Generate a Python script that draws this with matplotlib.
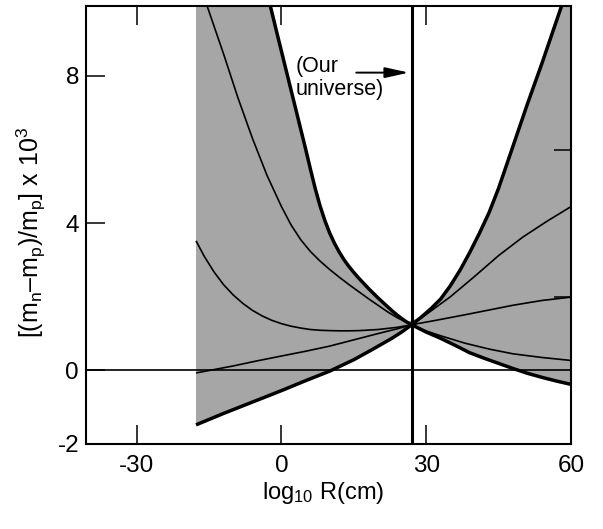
import numpy as np
import matplotlib
matplotlib.use("Agg")
import matplotlib.pyplot as plt
from matplotlib.ticker import FixedLocator

plt.rcParams['font.family'] = ['Liberation Sans', 'DejaVu Sans']
plt.rcParams['mathtext.fontset'] = 'custom'
plt.rcParams['mathtext.rm'] = 'Liberation Sans'
plt.rcParams['mathtext.it'] = 'Liberation Sans'
plt.rcParams['axes.unicode_minus'] = False

# ---- data ----
x_cross = 27.0          # log10 R of our universe
x_min_shade = -17.7

# thick boundary curve A (lower on left, upper on right)
A_x = [-17.7, -12, -6, 0, 5, 10, 15, 19, 23, 25, 27, 29, 31, 33, 35, 37, 39, 41, 43, 45,
       48, 51, 54, 57, 58.3]
A_y = [-1.48, -1.17, -0.86, -0.55, -0.28, -0.02, 0.29, 0.58, 0.88, 1.05, 1.24, 1.45, 1.68,
       1.94, 2.3, 2.72, 3.2, 3.72, 4.28, 4.95, 6.1, 7.25, 8.35, 9.5, 10.0]

# thick boundary curve B (upper on left, lower on right)
B_x = [-3.2, -2.3, -1, 0, 1, 2, 3, 4, 5, 6, 7, 8, 9, 10, 11, 12, 13, 14, 15, 16, 17, 18,
       19, 20, 21, 22, 23, 24, 25, 26, 27, 30, 33, 36, 39, 42, 45, 48, 51, 54, 57, 60]
B_y = [10.4, 9.9, 9.2, 8.67, 8.14, 7.61, 7.08, 6.55, 6.02, 5.47, 4.94, 4.47, 4.07, 3.73,
       3.45, 3.21, 3.0, 2.82, 2.66, 2.51, 2.37, 2.23, 2.1, 1.97, 1.85, 1.73, 1.61, 1.5,
       1.4, 1.31, 1.24, 1.04, 0.87, 0.68, 0.48, 0.33, 0.19, 0.05, -0.08, -0.19, -0.29, -0.38]

# thin curves
a_x = [-15.9, -15.4, -12, -9, -6, -3, 0, 2, 4, 6, 8, 10, 12, 14, 16, 18, 20, 22, 24, 27,
       30, 33, 38, 43, 48, 54, 60]
a_y = [10.1, 9.9, 8.6, 7.4, 6.3, 5.3, 4.45, 3.95, 3.55, 3.23, 2.97, 2.74, 2.53, 2.33, 2.14,
       1.95, 1.77, 1.59, 1.43, 1.24, 1.07, 0.94, 0.74, 0.58, 0.45, 0.35, 0.27]

b_x = [-17.7, -16, -14, -12, -10, -8, -6, -4, -2, 0, 2, 4, 6, 8, 10, 12, 14, 16, 18, 20,
       22, 24, 27, 32, 38, 43, 48, 54, 60]
b_y = [3.52, 3.1, 2.68, 2.33, 2.05, 1.82, 1.63, 1.48, 1.36, 1.27, 1.2, 1.15, 1.11, 1.09,
       1.08, 1.075, 1.075, 1.08, 1.095, 1.11, 1.14, 1.17, 1.24, 1.36, 1.51, 1.64, 1.77,
       1.9, 1.99]

c_x = [-17.7, -10, -5, 0, 5, 10, 15, 20, 24, 27, 30, 35, 40, 45, 50, 55, 60]
c_y = [-0.07, 0.12, 0.26, 0.39, 0.52, 0.66, 0.83, 1.0, 1.13, 1.24, 1.52, 2.0, 2.55, 3.12,
       3.62, 4.05, 4.45]

x_ticks = [-30, 0, 30, 60]
x_ticklabels = ['-30', '0', '30', '60']
y_ticks = [-2, 0, 4, 8]
y_ticklabels = ['-2', '0', '4', '8']
y_right_ticks = [2, 6]

XLIM = (-40.5, 60)
YLIM = (-2, 9.9)
TOP = 11.0

# ---- figure ----
fig = plt.figure(figsize=(6.03, 5.29), dpi=100)
ax = fig.add_axes([86 / 603, 1 - 444 / 529, (571 - 86) / 603, (444 - 6) / 529])

A_x = np.array(A_x); A_y = np.array(A_y)
B_x = np.array(B_x); B_y = np.array(B_y)

# shaded allowed region: polygon bounded by the two thick curves
mA_l = A_x <= x_cross
mA_r = A_x > x_cross
mB_l = B_x < x_cross
mB_r = B_x > x_cross
poly_x = np.concatenate([A_x[mA_l], B_x[mB_r], [XLIM[1]], A_x[mA_r][::-1],
                         B_x[mB_l][::-1], [x_min_shade]])
poly_y = np.concatenate([A_y[mA_l], B_y[mB_r], [TOP], A_y[mA_r][::-1],
                         B_y[mB_l][::-1], [TOP]])
ax.fill(poly_x, poly_y, color='#a6a6a6', lw=0, zorder=1)

thick = 2.5
thin = 1.2
ax.plot(A_x, A_y, color='black', lw=thick, zorder=3, solid_capstyle='butt')
ax.plot(B_x, B_y, color='black', lw=thick, zorder=3, solid_capstyle='butt')
for xs, ys in [(a_x, a_y), (b_x, b_y), (c_x, c_y)]:
    ax.plot(xs, ys, color='black', lw=thin, zorder=3, solid_capstyle='butt')

ax.axhline(0, color='black', lw=1.2, zorder=2)
ax.axvline(x_cross, color='black', lw=2.2, zorder=4)

ax.text(3.0, 7.95, '(Our\nuniverse)', fontsize=15.5, ha='left', va='center',
        linespacing=1.1)
ax.annotate('', xy=(26.4, 8.09), xytext=(15.5, 8.09),
            arrowprops=dict(arrowstyle='-|>,head_length=0.9,head_width=0.2',
                            color='black', lw=1.4, mutation_scale=16,
                            shrinkA=0, shrinkB=0))

ax.set_xlim(*XLIM)
ax.set_ylim(*YLIM)

ax.set_xticks(x_ticks)
ax.set_xticklabels(x_ticklabels)
ax.set_yticks(y_ticks)
ax.set_yticklabels(y_ticklabels)
ax.yaxis.set_minor_locator(FixedLocator(y_right_ticks))

ax.tick_params(axis='x', which='major', direction='in', length=14, width=1.1,
               top=True, bottom=True, labelsize=17.5, pad=8)
ax.tick_params(axis='y', which='major', direction='in', length=13.5, width=1.1,
               left=True, right=False, labelsize=17.5, pad=5)
ax.tick_params(axis='y', which='minor', direction='in', length=12, width=1.1,
               left=False, right=True)

for s in ax.spines.values():
    s.set_linewidth(1.5)

ax.set_xlabel(r'log$_{10}$ R(cm)', fontsize=17)
ax.xaxis.set_label_coords(0.489, -0.112)
ax.xaxis.label.set_va('center')

ax.set_ylabel('[(m$_\\mathrm{n}$\u2013m$_\\mathrm{p}$)/m$_\\mathrm{p}$] x 10$^3$', fontsize=18)
ax.yaxis.set_label_coords(-0.113, 0.482)
ax.yaxis.label.set_va('center')

fig.savefig('out.png', dpi=100)
